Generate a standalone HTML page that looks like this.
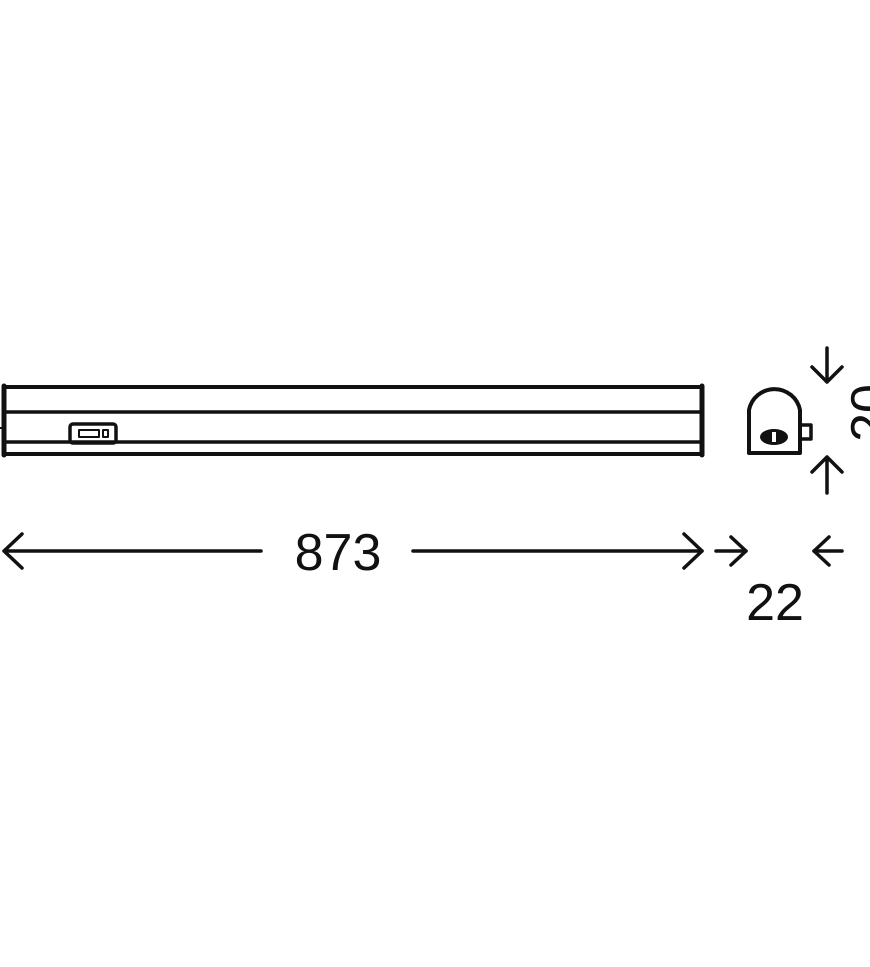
<!DOCTYPE html>
<html><head><style>
html,body{margin:0;padding:0;background:#fff;width:870px;height:967px;overflow:hidden}
svg{display:block}
text{font-family:"Liberation Sans",sans-serif;fill:#111}
</style></head><body>
<svg width="870" height="967" viewBox="0 0 870 967" fill="none" stroke="#111" stroke-linecap="round" stroke-linejoin="round">
<line x1="4" y1="387" x2="702" y2="387" stroke-width="4"/>
<line x1="4" y1="412" x2="702" y2="412" stroke-width="3.5"/>
<line x1="4" y1="442" x2="702" y2="442" stroke-width="3.5"/>
<line x1="4" y1="454" x2="702" y2="454" stroke-width="4"/>
<line x1="4" y1="386" x2="4" y2="455" stroke-width="5"/>
<line x1="702" y1="386" x2="702" y2="455" stroke-width="5"/>
<line x1="0" y1="428" x2="2" y2="428" stroke-width="2"/>
<rect x="70" y="424" width="46" height="19" rx="3" stroke-width="3.5"/>
<rect x="79" y="430" width="20" height="7" stroke-width="2"/>
<rect x="103" y="430" width="5" height="7" stroke-width="2"/>
<path d="M749 453 L749 410 A26 26 0 0 1 800 410 L800 453 Z" stroke-width="4"/>
<rect x="800" y="425" width="11" height="14" stroke-width="3.5"/>
<ellipse cx="774" cy="437" rx="14" ry="8" fill="#111" stroke="none"/>
<rect x="772" y="432" width="4" height="10" fill="#fff" stroke="none"/>
<line x1="827" y1="348" x2="827" y2="381" stroke-width="3.5"/>
<polyline points="812,367 827,382 842,367" stroke-width="3.5"/>
<line x1="827" y1="458" x2="827" y2="493" stroke-width="3.5"/>
<polyline points="812,472 827,457 842,472" stroke-width="3.5"/>
<line x1="5" y1="551" x2="261" y2="551" stroke-width="3.5"/>
<polyline points="22,534 4,551 22,568" stroke-width="3.5"/>
<line x1="413" y1="551" x2="702" y2="551" stroke-width="3.5"/>
<polyline points="684,534 702,551 684,568" stroke-width="3.5"/>
<line x1="716" y1="551" x2="746" y2="551" stroke-width="3.5"/>
<polyline points="731,537 746,551 731,565" stroke-width="3.5"/>
<line x1="814" y1="551" x2="842" y2="551" stroke-width="3.5"/>
<polyline points="829,537 814,551 829,565" stroke-width="3.5"/>
<text x="338" y="570" font-size="52" text-anchor="middle" stroke="none">873</text>
<text x="775" y="620" font-size="52" text-anchor="middle" stroke="none">22</text>
<text x="0" y="0" font-size="52" text-anchor="middle" stroke="none" transform="translate(887 413) rotate(-90)">20</text>
</svg>
</body></html>
